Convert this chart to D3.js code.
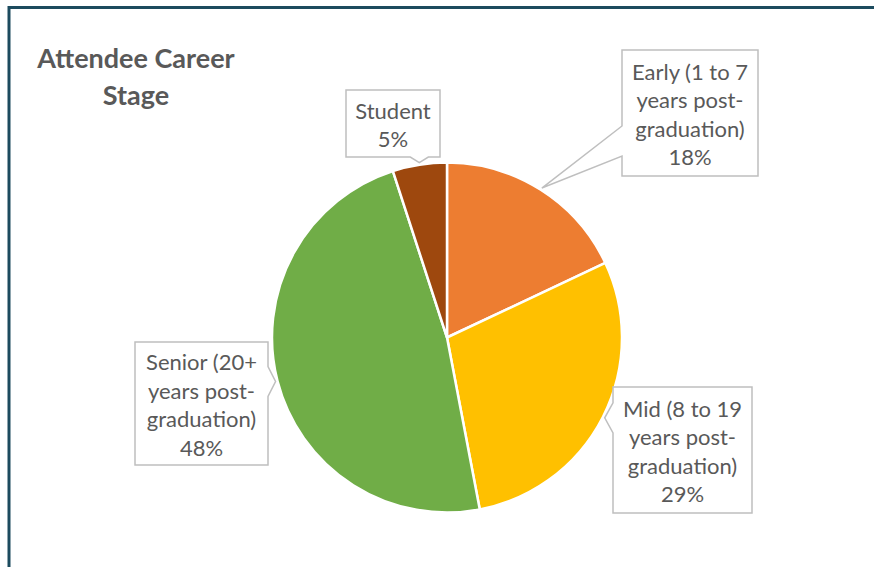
<!DOCTYPE html>
<html>
<head>
<meta charset="utf-8">
<script src="https://cdn.jsdelivr.net/npm/d3@7"></script>
<style>
  body { margin: 0; background: #fff; }
  svg { display: block; }
</style>
</head>
<body>
<script>
var categories = ["Early (1 to 7 years post-graduation)", "Mid (8 to 19 years post-graduation)", "Senior (20+ years post-graduation)", "Student"];
var values = [18, 29, 48, 5];
var colors = ["#ED7D31", "#FFC000", "#70AD47", "#9E480E"];
var labelLines = [
  ["Early (1 to 7", "years post-", "graduation)", "18%"],
  ["Mid (8 to 19", "years post-", "graduation)", "29%"],
  ["Senior (20+", "years post-", "graduation)", "48%"],
  ["Student", "5%"]
];
var titleLines = ["Attendee Career", "Stage"];

// callout box layout (x, y, w, h) and which side the pointer leaves from
var boxes = [
  {x: 622, y: 50, w: 136, h: 126, side: "left"},
  {x: 613, y: 387, w: 139, h: 126, side: "left"},
  {x: 135, y: 342, w: 133, h: 123, side: "right"},
  {x: 346, y: 90, w: 94, h: 67, side: "bottom"}
];

var width = 874, height = 567;
var cx = 447, cy = 337.5, radius = 175;
var textColor = "#595959";
var font = "Lato, 'Liberation Sans', sans-serif";

var svg = d3.select("body").append("svg")
  .attr("width", width)
  .attr("height", height);

// outer frame, runs off the right and bottom of the picture
svg.append("rect")
  .attr("x", 9).attr("y", 7.5)
  .attr("width", 1000).attr("height", 1000)
  .attr("fill", "none")
  .attr("stroke", "#1c4b5e")
  .attr("stroke-width", 3);

svg.append("text")
  .attr("x", 136)
  .attr("y", 68)
  .attr("text-anchor", "middle")
  .style("font-family", font)
  .style("font-weight", "bold")
  .style("font-size", "27px")
  .attr("fill", textColor)
  .selectAll("tspan")
  .data(titleLines)
  .enter()
  .append("tspan")
    .attr("x", 136)
    .attr("dy", function(d, i){ return i == 0 ? 0 : 37; })
    .text(function(d){ return d; });

var pie = d3.pie().sort(null).value(function(d){ return d; });
var arcs = pie(values);

var arc = d3.arc().innerRadius(0).outerRadius(radius);
var tipArc = d3.arc().innerRadius(177).outerRadius(177);

var chartGroup = svg.append("g")
  .attr("transform", "translate(" + cx + "," + cy + ")");

chartGroup.selectAll(".slice")
  .data(arcs)
  .enter()
  .append("path")
    .attr("class", "slice")
    .attr("d", arc)
    .attr("fill", function(d, i){ return colors[i]; })
    .attr("stroke", "#fff")
    .attr("stroke-width", 2.5)
    .attr("stroke-linejoin", "round");

function clamp(v, lo, hi) { return Math.max(lo, Math.min(hi, v)); }

function calloutPath(b, tip) {
  var x0 = b.x, y0 = b.y, x1 = b.x + b.w, y1 = b.y + b.h;
  var half, c, p;
  if (b.side == "left" || b.side == "right") {
    half = 15;
    c = clamp(tip[1], y0 + half + 4, y1 - half - 20);
    if (b.side == "left") {
      p = [[x0, y0], [x1, y0], [x1, y1], [x0, y1], [x0, c + half], tip, [x0, c - half]];
    } else {
      p = [[x0, y0], [x1, y0], [x1, c - half], tip, [x1, c + half], [x1, y1], [x0, y1]];
    }
  } else {
    half = 9;
    c = clamp(tip[0], x0 + half + 4, x1 - half - 4);
    p = [[x0, y0], [x1, y0], [x1, y1], [c + half, y1], tip, [c - half, y1], [x0, y1]];
  }
  return "M" + p.join("L") + "Z";
}

var labels = svg.selectAll(".callout")
  .data(arcs)
  .enter()
  .append("g")
    .attr("class", "callout");

labels.append("path")
  .attr("d", function(d, i){
    var t = tipArc.centroid(d);
    return calloutPath(boxes[i], [t[0] + cx, t[1] + cy]);
  })
  .attr("fill", "#fff")
  .attr("stroke", "#bfbfbf")
  .attr("stroke-width", 1.5);

var lineH = 28.5, fontSize = 22;
labels.append("text")
  .attr("text-anchor", "middle")
  .style("font-family", font)
  .style("font-size", fontSize + "px")
  .attr("fill", textColor)
  .each(function(d, i){
    var b = boxes[i];
    var lines = labelLines[i];
    var mid = b.y + b.h / 2 + 1.5;
    var first = mid - (lines.length - 1) * lineH / 2 + fontSize * 0.36;
    d3.select(this).selectAll("tspan")
      .data(lines)
      .enter()
      .append("tspan")
        .attr("x", b.x + b.w / 2)
        .attr("y", function(l, j){ return first + j * lineH; })
        .text(function(l){ return l; });
  });
</script>
</body>
</html>
